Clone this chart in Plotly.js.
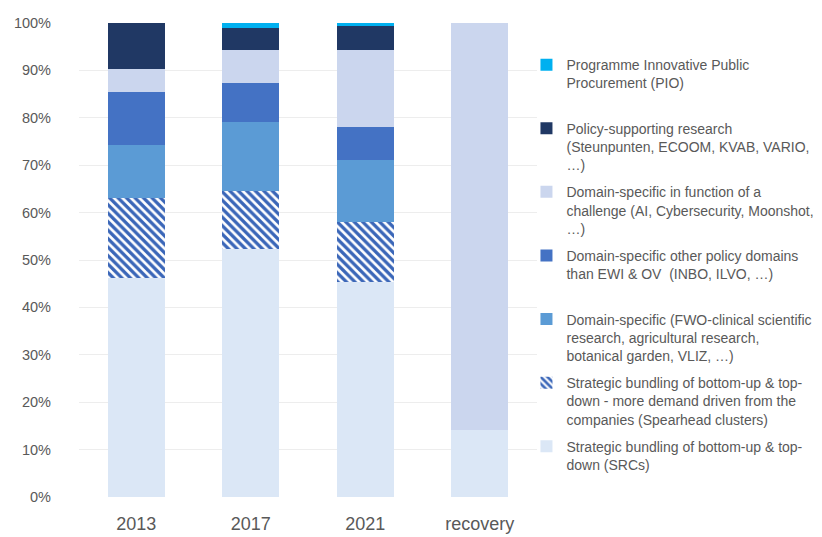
<!DOCTYPE html>
<html>
<head>
<meta charset="utf-8">
<script src="https://cdn.plot.ly/plotly-3.0.1.min.js"></script>
<style>html,body{margin:0;padding:0;background:#fff;}#chart{width:822px;height:537px;}</style>
</head>
<body>
<div id="chart"></div>
<script>
const categories = ['2013', '2017', '2021', 'recovery'];
const srcs       = [46.2, 52.3, 45.4, 14.1];
const spearhead  = [16.9, 12.3, 12.6, 0];
const fwo        = [11.2, 14.5, 13.1, 0];
const otherDom   = [11.1, 8.2, 7.0, 0];
const challenge  = [4.9, 7.0, 16.2, 85.9];
const policy     = [9.7, 4.6, 5.1, 0];
const pio        = [0, 1.1, 0.6, 0];
const yTickVals  = [0, 10, 20, 30, 40, 50, 60, 70, 80, 90, 100];
const yTickText  = ['0%', '10%', '20%', '30%', '40%', '50%', '60%', '70%', '80%', '90%', '100%'];

const seriesNames = {
  srcs: 'Strategic bundling of bottom-up &amp; top-<br>down (SRCs)<br>&nbsp;',
  spearhead: 'Strategic bundling of bottom-up &amp; top-<br>down - more demand driven from the<br>companies (Spearhead clusters)',
  fwo: 'Domain-specific (FWO-clinical scientific<br>research, agricultural research,<br>botanical garden, VLIZ, …)',
  otherDom: 'Domain-specific other policy domains<br>than EWI &amp; OV  (INBO, ILVO, …)<br>&nbsp;',
  challenge: 'Domain-specific in function of a<br>challenge (AI, Cybersecurity, Moonshot,<br>…)',
  policy: 'Policy-supporting research<br>(Steunpunten, ECOOM, KVAB, VARIO,<br>…)',
  pio: 'Programme Innovative Public<br>Procurement (PIO)<br>&nbsp;'
};

function bar(y, name, color, group, rank, pattern) {
  const t = {
    type: 'bar', x: categories, y: y, name: name, legendgroup: group, legendrank: rank,
    marker: {color: color, line: {width: 0}},
    width: 0.5, hoverinfo: 'skip'
  };
  if (pattern) t.marker.pattern = pattern;
  return t;
}

const data = [
  bar(srcs, seriesNames.srcs, '#dbe7f6', 'g1', 7),
  bar(spearhead, seriesNames.spearhead, '#ffffff', 'g2', 6, {shape: '\\', fgcolor: '#3a66b8', bgcolor: '#ffffff', fgopacity: 1, size: 6, solidity: 0.55, fillmode: 'replace'}),
  bar(fwo, seriesNames.fwo, '#5b9bd5', 'g3', 5),
  bar(otherDom, seriesNames.otherDom, '#4472c4', 'g4', 4),
  bar(challenge, seriesNames.challenge, '#cbd6ee', 'g5', 3),
  bar(policy, seriesNames.policy, '#203864', 'g6', 2),
  bar(pio, seriesNames.pio, '#00b0f0', 'g7', 1)
];

const layout = {
  width: 822, height: 537,
  margin: {l: 79, r: 285, t: 23, b: 40, autoexpand: false},
  paper_bgcolor: '#ffffff', plot_bgcolor: '#ffffff',
  font: {family: 'Liberation Sans, Arial, sans-serif', size: 14, color: '#595959'},
  barmode: 'stack',
  bargap: 0.5,
  showlegend: true,
  legend: {
    x: 0.977, xanchor: 'left', y: 0.945, yanchor: 'top',
    traceorder: 'grouped', valign: 'top', tracegroupgap: 6,
    font: {size: 14, color: '#595959'}, bgcolor: 'rgba(0,0,0,0)', itemwidth: 30
  },
  xaxis: {
    type: 'category', showgrid: false, showline: false, zeroline: false, automargin: false,
    ticks: '', tickfont: {size: 18, color: '#595959'}, ticklabelstandoff: 14
  },
  yaxis: {
    range: [0, 100], tickmode: 'array', tickvals: yTickVals, ticktext: yTickText, automargin: false,
    showgrid: true, gridcolor: '#ededed', gridwidth: 1, zeroline: false, showline: false,
    ticks: '', tickfont: {size: 14.5, color: '#595959'}, ticklabelstandoff: 27
  }
};

Plotly.newPlot('chart', data, layout, {displayModeBar: false, staticPlot: true});
</script>
</body>
</html>
